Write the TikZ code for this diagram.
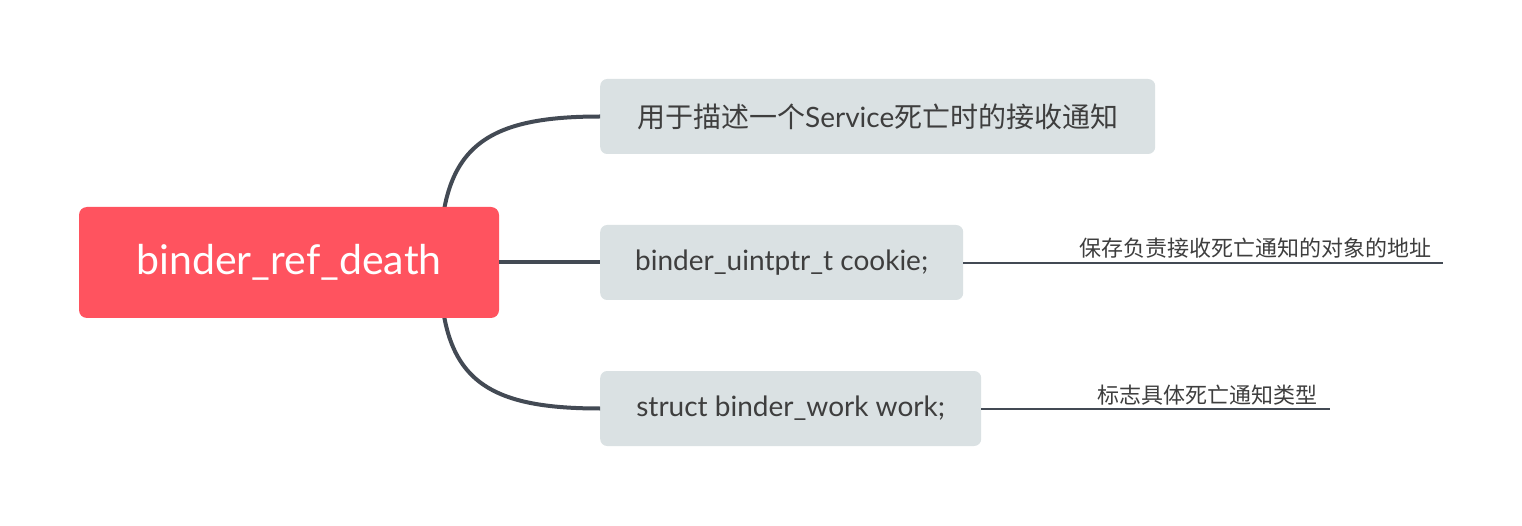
\documentclass[tikz,border=0pt]{standalone}
\usepackage{fontspec}
\setmainfont{Lato}
\newfontfamily\cjk{Noto Sans CJK SC}
\usetikzlibrary{calc}
\definecolor{rootred}{HTML}{FF535F}
\definecolor{boxgray}{HTML}{DAE1E3}
\definecolor{linegray}{HTML}{434A54}
\definecolor{txtgray}{HTML}{3E3E3E}
\tikzset{
  rootbox/.style={fill=rootred, rounded corners=8pt, minimum width=420pt, minimum height=111pt,
    text=white, font=\fontsize{41}{48}\selectfont, inner sep=0pt},
  childbox/.style={fill=boxgray, rounded corners=7pt, minimum height=75pt, anchor=west,
    text=txtgray, font=\fontsize{28}{32}\selectfont, inner sep=0pt},
  branch/.style={draw=linegray, line width=4pt},
  noteline/.style={draw=linegray, line width=2pt},
  notetext/.style={text=txtgray, font=\cjk\fontsize{22}{25}\selectfont, inner sep=0pt, anchor=south east}
}
\begin{document}
\begin{tikzpicture}[x=1pt,y=-1pt]
\useasboundingbox (0,0) rectangle (1522,526);
\coordinate (hub) at (440,263);
\node[childbox, minimum width=555pt] (c1) at (600,116.5) {{\cjk 用于描述一个}Service{\cjk 死亡时的接收通知}};
\node[childbox, minimum width=363pt] (c2) at (600,262.5) {binder\_uintptr\_t cookie;};
\node[childbox, minimum width=381pt] (c3) at (600,408.5) {struct binder\_work work;};
\draw[branch] (hub) .. controls ($(hub)+(0,-113)$) and ($(c1.west)+(-120,0)$) .. (c1.west);
\draw[branch] (hub) .. controls ($(hub)+(0,113)$) and ($(c3.west)+(-120,0)$) .. (c3.west);
\node[rootbox] (root) at (289,262.5) {binder\_ref\_death};
\draw[branch] (root.east) -- (c2.west);
\coordinate (e2) at (1443,263);
\coordinate (e3) at (1330,409);
\draw[noteline] (c2.east |- e2) -- (e2);
\draw[noteline] (c3.east |- e3) -- (e3);
\node[notetext] (n2) at (1432,259) {保存负责接收死亡通知的对象的地址};
\node[notetext] (n3) at (1318,405) {标志具体死亡通知类型};
\end{tikzpicture}
\end{document}
